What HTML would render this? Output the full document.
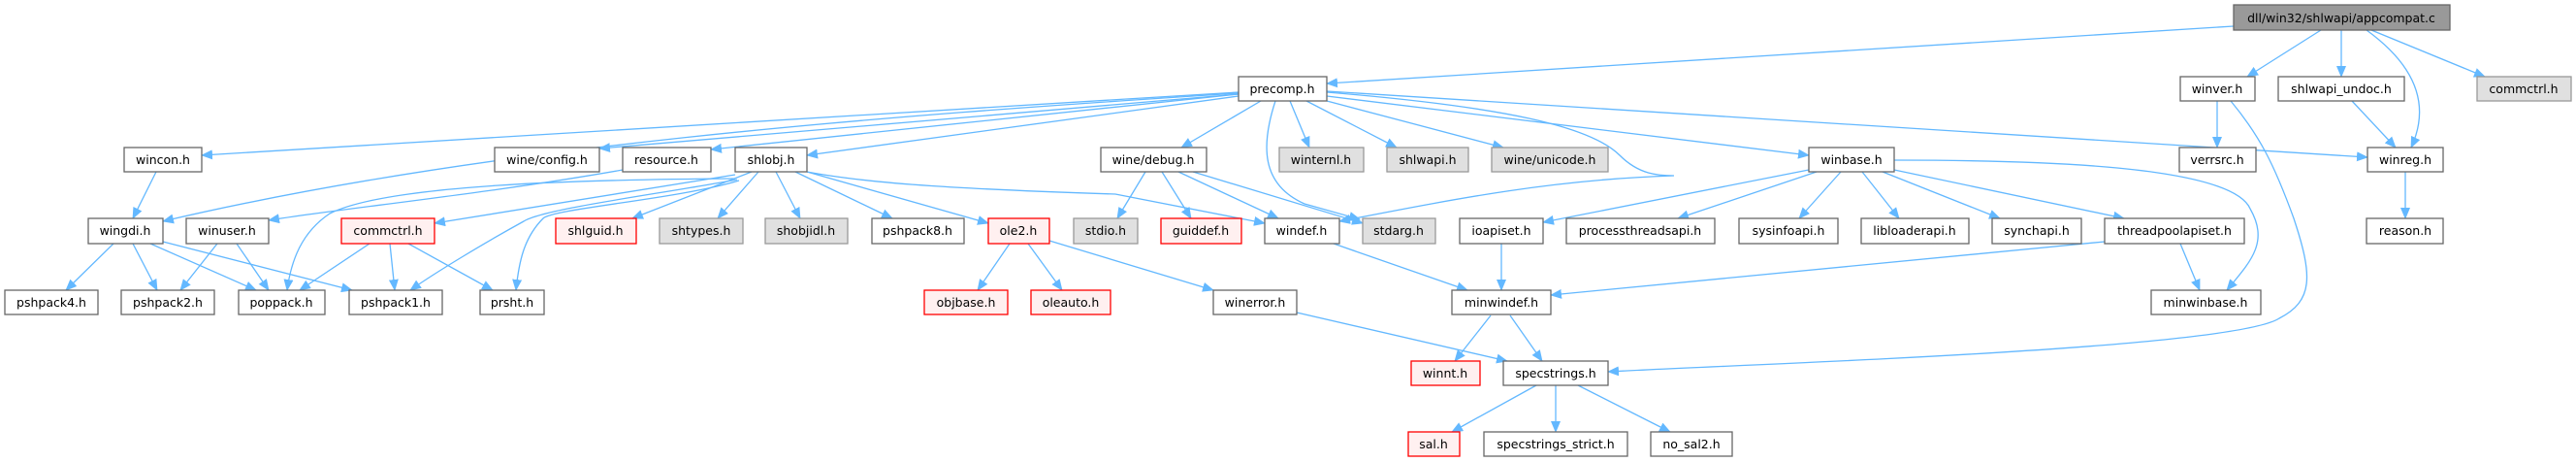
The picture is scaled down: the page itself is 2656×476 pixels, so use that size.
<!DOCTYPE html>
<html><head><meta charset="utf-8"><style>
html,body{margin:0;padding:0;background:#fff;width:2656px;height:476px;overflow:hidden}
svg text{font-family:"DejaVu Sans","Liberation Sans",sans-serif;font-size:12.5px;fill:#000;text-anchor:middle}
.n{fill:#fff;stroke:#666;stroke-width:1.3}
.g{fill:#e0e0e0;stroke:#999;stroke-width:1.3}
.r{fill:#fff0f0;stroke:#f00;stroke-width:1.3}
.root{fill:#999;stroke:#666;stroke-width:1.3}
path{fill:none;stroke:#63b8ff;stroke-width:1.3}
</style></head><body>
<svg width="2656" height="476" viewBox="0 0 2656 476" xmlns="http://www.w3.org/2000/svg">
<defs><marker id="a" markerWidth="12" markerHeight="10" refX="11" refY="5" orient="auto" markerUnits="userSpaceOnUse"><polygon points="0,0 12,5 0,10" fill="#63b8ff"/></marker></defs>
<g marker-end="url(#a)">
<path d="M2303,27 L1368,86"/>
<path d="M2393,31 L2317,79"/>
<path d="M2414,31 L2414,79"/>
<path d="M2440,31 C2480,60 2510,100 2486,152"/>
<path d="M2445,31 L2562,79"/>
<path d="M2286,104 L2286,152"/>
<path d="M2300,104 C2330,140 2345,170 2365,225 C2385,285 2385,310 2350,328 C2300,360 1800,375 1658,383"/>
<path d="M2425,104 L2470,152"/>
<path d="M2480,177 L2480,225"/>
<path d="M1277,95 L208,160"/>
<path d="M1277,96 C900,120 500,150 168,228"/>
<path d="M1277,97 L618,153"/>
<path d="M1277,97 L733,154"/>
<path d="M1277,99 L832,160"/>
<path d="M1300,104 L1218,152"/>
<path d="M1315,104 C1300,150 1300,190 1345,210 L1402,226"/>
<path d="M832,177 C900,190 1000,195 1150,200 L1304,230"/>
<path d="M1230,177 L1405,230"/>
<path d="M1330,104 L1350,152"/>
<path d="M1347,104 L1440,152"/>
<path d="M1368,104 L1550,152"/>
<path d="M1368,99 L1865,160"/>
<path d="M1368,94 L2441,162"/>
<path d="M1368,95 C1550,110 1640,130 1670,160 C1690,180 1710,181 1726,181 C1600,185 1500,205 1381,228"/>
<path d="M161,177 L137,225"/>
<path d="M117,251 L68,299"/>
<path d="M137,251 L162,299"/>
<path d="M155,251 L264,299"/>
<path d="M168,249 L363,299"/>
<path d="M224,251 L186,299"/>
<path d="M244,251 L277,299"/>
<path d="M642,175 C500,200 350,215 277,227"/>
<path d="M758,180 L448,230"/>
<path d="M775,177 L652,225"/>
<path d="M782,177 L740,225"/>
<path d="M800,177 L825,225"/>
<path d="M820,177 L920,225"/>
<path d="M832,177 L1019,230"/>
<path d="M758,184 C600,185 400,190 340,220 C310,240 300,270 296,299"/>
<path d="M760,185 C680,200 560,215 540,228 C500,250 450,280 423,299"/>
<path d="M762,186 C700,205 570,215 560,225 C540,245 535,270 532,299"/>
<path d="M381,251 L309,299"/>
<path d="M402,251 L407,299"/>
<path d="M421,251 L508,299"/>
<path d="M1041,251 L1008,299"/>
<path d="M1060,251 L1095,299"/>
<path d="M1082,248 L1251,299"/>
<path d="M1181,177 L1152,225"/>
<path d="M1198,177 L1228,225"/>
<path d="M1215,177 L1318,225"/>
<path d="M1375,251 L1513,299"/>
<path d="M1548,251 L1548,299"/>
<path d="M2170,249 L1599,304"/>
<path d="M1865,175 L1591,229"/>
<path d="M1873,177 L1730,225"/>
<path d="M1898,177 L1855,225"/>
<path d="M1920,177 L1958,225"/>
<path d="M1941,177 L2062,225"/>
<path d="M1953,175 L2190,225"/>
<path d="M1953,165 C2100,165 2300,170 2320,215 C2340,250 2320,270 2296,299"/>
<path d="M2248,251 L2268,299"/>
<path d="M1537,325 L1500,372"/>
<path d="M1557,325 L1590,372"/>
<path d="M1337,322 L1554,372"/>
<path d="M1584,397 L1497,445"/>
<path d="M1604,397 L1604,445"/>
<path d="M1627,397 L1722,445"/>
</g>
<g>
<rect class="root" x="2303" y="5" width="223" height="26"/><text x="2414" y="23">dll/win32/shlwapi/appcompat.c</text>
<rect class="n" x="1277" y="79" width="91" height="25"/><text x="1322" y="96">precomp.h</text>
<rect class="n" x="2248" y="79" width="77" height="25"/><text x="2286" y="96">winver.h</text>
<rect class="n" x="2349" y="79" width="130" height="25"/><text x="2414" y="96">shlwapi_undoc.h</text>
<rect class="g" x="2554" y="79" width="97" height="25"/><text x="2602" y="96">commctrl.h</text>
<rect class="n" x="128" y="152" width="80" height="25"/><text x="168" y="169">wincon.h</text>
<rect class="n" x="510" y="152" width="108" height="25"/><text x="564" y="169">wine/config.h</text>
<rect class="n" x="642" y="152" width="91" height="25"/><text x="687" y="169">resource.h</text>
<rect class="n" x="758" y="152" width="74" height="25"/><text x="795" y="169">shlobj.h</text>
<rect class="n" x="1135" y="152" width="109" height="25"/><text x="1189" y="169">wine/debug.h</text>
<rect class="g" x="1319" y="152" width="87" height="25"/><text x="1362" y="169">winternl.h</text>
<rect class="g" x="1430" y="152" width="84" height="25"/><text x="1472" y="169">shlwapi.h</text>
<rect class="g" x="1538" y="152" width="120" height="25"/><text x="1598" y="169">wine/unicode.h</text>
<rect class="n" x="1865" y="152" width="88" height="25"/><text x="1909" y="169">winbase.h</text>
<rect class="n" x="2247" y="152" width="79" height="25"/><text x="2286" y="169">verrsrc.h</text>
<rect class="n" x="2441" y="152" width="78" height="25"/><text x="2480" y="169">winreg.h</text>
<rect class="n" x="91" y="225" width="77" height="26"/><text x="129" y="242">wingdi.h</text>
<rect class="n" x="192" y="225" width="85" height="26"/><text x="234" y="242">winuser.h</text>
<rect class="r" x="352" y="225" width="96" height="26"/><text x="400" y="242">commctrl.h</text>
<rect class="r" x="573" y="225" width="83" height="26"/><text x="614" y="242">shlguid.h</text>
<rect class="g" x="680" y="225" width="86" height="26"/><text x="723" y="242">shtypes.h</text>
<rect class="g" x="789" y="225" width="85" height="26"/><text x="831" y="242">shobjidl.h</text>
<rect class="n" x="899" y="225" width="95" height="26"/><text x="946" y="242">pshpack8.h</text>
<rect class="r" x="1019" y="225" width="63" height="26"/><text x="1050" y="242">ole2.h</text>
<rect class="g" x="1107" y="225" width="66" height="26"/><text x="1140" y="242">stdio.h</text>
<rect class="r" x="1197" y="225" width="83" height="26"/><text x="1238" y="242">guiddef.h</text>
<rect class="n" x="1304" y="225" width="77" height="26"/><text x="1342" y="242">windef.h</text>
<rect class="g" x="1405" y="225" width="75" height="26"/><text x="1442" y="242">stdarg.h</text>
<rect class="n" x="1505" y="225" width="86" height="26"/><text x="1548" y="242">ioapiset.h</text>
<rect class="n" x="1615" y="225" width="153" height="26"/><text x="1691" y="242">processthreadsapi.h</text>
<rect class="n" x="1793" y="225" width="102" height="26"/><text x="1844" y="242">sysinfoapi.h</text>
<rect class="n" x="1919" y="225" width="111" height="26"/><text x="1974" y="242">libloaderapi.h</text>
<rect class="n" x="2054" y="225" width="92" height="26"/><text x="2100" y="242">synchapi.h</text>
<rect class="n" x="2170" y="225" width="144" height="26"/><text x="2242" y="242">threadpoolapiset.h</text>
<rect class="n" x="2440" y="225" width="79" height="26"/><text x="2480" y="242">reason.h</text>
<rect class="n" x="5" y="299" width="96" height="25"/><text x="53" y="316">pshpack4.h</text>
<rect class="n" x="125" y="299" width="96" height="25"/><text x="173" y="316">pshpack2.h</text>
<rect class="n" x="246" y="299" width="89" height="25"/><text x="290" y="316">poppack.h</text>
<rect class="n" x="360" y="299" width="96" height="25"/><text x="408" y="316">pshpack1.h</text>
<rect class="n" x="495" y="299" width="66" height="25"/><text x="528" y="316">prsht.h</text>
<rect class="r" x="953" y="299" width="86" height="25"/><text x="996" y="316">objbase.h</text>
<rect class="r" x="1063" y="299" width="82" height="25"/><text x="1104" y="316">oleauto.h</text>
<rect class="n" x="1251" y="299" width="86" height="25"/><text x="1294" y="316">winerror.h</text>
<rect class="n" x="1497" y="299" width="102" height="25"/><text x="1548" y="316">minwindef.h</text>
<rect class="n" x="2218" y="299" width="113" height="25"/><text x="2274" y="316">minwinbase.h</text>
<rect class="r" x="1455" y="372" width="71" height="25"/><text x="1490" y="389">winnt.h</text>
<rect class="n" x="1550" y="372" width="108" height="25"/><text x="1604" y="389">specstrings.h</text>
<rect class="r" x="1452" y="445" width="53" height="25"/><text x="1478" y="462">sal.h</text>
<rect class="n" x="1530" y="445" width="148" height="25"/><text x="1604" y="462">specstrings_strict.h</text>
<rect class="n" x="1702" y="445" width="84" height="25"/><text x="1744" y="462">no_sal2.h</text>
</g>
</svg>
</body></html>
